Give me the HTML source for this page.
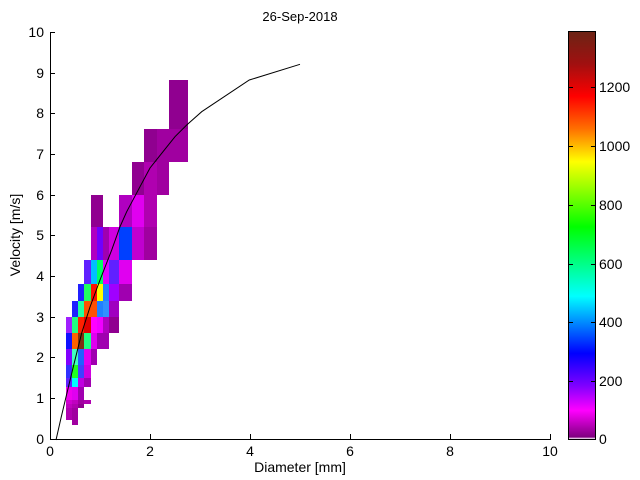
<!DOCTYPE html>
<html><head><meta charset="utf-8"><style>
html,body{margin:0;padding:0;background:#fff;}
svg{display:block;font-family:"Liberation Sans",sans-serif;}
</style></head><body>
<svg width="640" height="480" viewBox="0 0 640 480" xmlns="http://www.w3.org/2000/svg">
<defs>
<linearGradient id="cb" x1="0" y1="0" x2="0" y2="1">
<stop offset="0" stop-color="#6b2414"/>
<stop offset="0.08" stop-color="#a01010"/>
<stop offset="0.16" stop-color="#ff0000"/>
<stop offset="0.24" stop-color="#ff7000"/>
<stop offset="0.32" stop-color="#ffff00"/>
<stop offset="0.48" stop-color="#00ff00"/>
<stop offset="0.65" stop-color="#00ffff"/>
<stop offset="0.79" stop-color="#0000ff"/>
<stop offset="0.87" stop-color="#8000ff"/>
<stop offset="0.93" stop-color="#ff00ff"/>
<stop offset="0.995" stop-color="#800080"/>
<stop offset="1" stop-color="#ffffff"/>
</linearGradient>
</defs>
<rect width="640" height="480" fill="#fff"/>
<g shape-rendering="crispEdges">
<rect x="72" y="420" width="6" height="5" fill="#a000a0"/>
<rect x="66" y="408" width="6" height="12" fill="#b000b0"/>
<rect x="72" y="408" width="6" height="12" fill="#a000a0"/>
<rect x="66" y="404" width="6" height="4" fill="#c000c0"/>
<rect x="72" y="404" width="6" height="4" fill="#b000b0"/>
<rect x="78" y="404" width="6" height="4" fill="#900090"/>
<rect x="66" y="400" width="6" height="4" fill="#d000d0"/>
<rect x="72" y="400" width="6" height="4" fill="#c000c0"/>
<rect x="78" y="400" width="6" height="4" fill="#a000a0"/>
<rect x="84" y="400" width="7" height="4" fill="#b000b0"/>
<rect x="66" y="387" width="6" height="13" fill="#f000f0"/>
<rect x="72" y="387" width="6" height="13" fill="#e000f0"/>
<rect x="78" y="387" width="6" height="13" fill="#a000b0"/>
<rect x="66" y="378" width="6" height="9" fill="#6020ff"/>
<rect x="72" y="378" width="6" height="9" fill="#00ffff"/>
<rect x="78" y="378" width="6" height="9" fill="#c000e0"/>
<rect x="84" y="378" width="7" height="9" fill="#a000b0"/>
<rect x="66" y="365" width="6" height="13" fill="#3030ff"/>
<rect x="72" y="365" width="6" height="13" fill="#20ff20"/>
<rect x="78" y="365" width="6" height="13" fill="#4040ff"/>
<rect x="84" y="365" width="7" height="13" fill="#d000e0"/>
<rect x="66" y="349" width="6" height="16" fill="#8000ff"/>
<rect x="72" y="349" width="6" height="16" fill="#40ffc0"/>
<rect x="78" y="349" width="6" height="16" fill="#2060ff"/>
<rect x="84" y="349" width="7" height="16" fill="#e000f0"/>
<rect x="91" y="349" width="6" height="16" fill="#a000b0"/>
<rect x="66" y="333" width="6" height="16" fill="#1010ff"/>
<rect x="72" y="333" width="6" height="16" fill="#ff6000"/>
<rect x="78" y="333" width="6" height="16" fill="#803010"/>
<rect x="84" y="333" width="7" height="16" fill="#20ff80"/>
<rect x="91" y="333" width="6" height="16" fill="#e000f0"/>
<rect x="97" y="333" width="6" height="16" fill="#a000b0"/>
<rect x="103" y="333" width="6" height="16" fill="#a000b0"/>
<rect x="66" y="317" width="6" height="16" fill="#a020ff"/>
<rect x="72" y="317" width="6" height="16" fill="#20ff80"/>
<rect x="78" y="317" width="6" height="16" fill="#ff2000"/>
<rect x="84" y="317" width="7" height="16" fill="#e00000"/>
<rect x="91" y="317" width="6" height="16" fill="#ff00ff"/>
<rect x="97" y="317" width="6" height="16" fill="#f000ff"/>
<rect x="103" y="317" width="6" height="16" fill="#b000c0"/>
<rect x="109" y="317" width="10" height="16" fill="#900090"/>
<rect x="72" y="301" width="6" height="16" fill="#2020ff"/>
<rect x="78" y="301" width="6" height="16" fill="#20ffa0"/>
<rect x="84" y="301" width="7" height="16" fill="#ff5000"/>
<rect x="91" y="301" width="6" height="16" fill="#ff5000"/>
<rect x="97" y="301" width="6" height="16" fill="#2080ff"/>
<rect x="103" y="301" width="6" height="16" fill="#3090ff"/>
<rect x="109" y="301" width="10" height="16" fill="#a000c0"/>
<rect x="78" y="284" width="6" height="17" fill="#2020ff"/>
<rect x="84" y="284" width="7" height="17" fill="#20ff60"/>
<rect x="91" y="284" width="6" height="17" fill="#ff1000"/>
<rect x="97" y="284" width="6" height="17" fill="#ffff00"/>
<rect x="103" y="284" width="6" height="17" fill="#2080ff"/>
<rect x="109" y="284" width="10" height="17" fill="#a000ff"/>
<rect x="119" y="284" width="13" height="17" fill="#a000b0"/>
<rect x="84" y="260" width="7" height="24" fill="#6020ff"/>
<rect x="91" y="260" width="6" height="24" fill="#00c0ff"/>
<rect x="97" y="260" width="6" height="24" fill="#00ff60"/>
<rect x="103" y="260" width="6" height="24" fill="#e000ff"/>
<rect x="109" y="260" width="10" height="24" fill="#6020ff"/>
<rect x="119" y="260" width="13" height="24" fill="#e000f0"/>
<rect x="91" y="227" width="6" height="33" fill="#b000c0"/>
<rect x="97" y="227" width="6" height="33" fill="#7000ff"/>
<rect x="103" y="227" width="6" height="33" fill="#a000b0"/>
<rect x="109" y="227" width="10" height="33" fill="#d000e0"/>
<rect x="119" y="227" width="13" height="33" fill="#0040ff"/>
<rect x="132" y="227" width="12" height="33" fill="#c000d0"/>
<rect x="144" y="227" width="13" height="33" fill="#a000a0"/>
<rect x="91" y="195" width="12" height="32" fill="#900090"/>
<rect x="119" y="195" width="13" height="32" fill="#b000c0"/>
<rect x="132" y="195" width="12" height="32" fill="#e000f0"/>
<rect x="144" y="195" width="13" height="32" fill="#b000b0"/>
<rect x="132" y="162" width="12" height="33" fill="#900090"/>
<rect x="144" y="162" width="13" height="33" fill="#b000b0"/>
<rect x="157" y="162" width="12" height="33" fill="#a000a0"/>
<rect x="144" y="129" width="13" height="33" fill="#900090"/>
<rect x="157" y="129" width="12" height="33" fill="#a000a0"/>
<rect x="169" y="129" width="19" height="33" fill="#a000a0"/>
<rect x="169" y="80" width="19" height="49" fill="#900090"/>
</g>
<polyline fill="none" stroke="#000" stroke-width="1" points="56,440 61,418 66,397 73.3,366.7 81.7,333 90,307 100,280 111.7,250 120,226.7 126.7,211.7 140,186.7 150,168 163,151.7 175,136.7 186.7,125 201.7,111.7 249.3,80 300,64.3"/>
<g stroke="#000" stroke-width="1" fill="none" shape-rendering="crispEdges">
<line x1="50.5" y1="32" x2="50.5" y2="439.5"/>
<line x1="50" y1="439.5" x2="551" y2="439.5"/>
<path d="M150.5,439v-5M250.5,439v-5M350.5,439v-5M450.5,439v-5M550.5,439v-5"/>
<path d="M50,398.5h5M50,357.5h5M50,317.5h5M50,276.5h5M50,235.5h5M50,195.5h5M50,154.5h5M50,113.5h5M50,73.5h5M50,32.5h5"/>
</g>
<g font-size="14" fill="#000" text-anchor="middle">
<text x="50" y="456">0</text><text x="150" y="456">2</text><text x="250" y="456">4</text><text x="350" y="456">6</text><text x="450" y="456">8</text><text x="550" y="456">10</text>
</g>
<g font-size="14" fill="#000" text-anchor="end">
<text x="44" y="444">0</text><text x="44" y="403">1</text><text x="44" y="362">2</text><text x="44" y="322">3</text><text x="44" y="281">4</text><text x="44" y="240">5</text><text x="44" y="200">6</text><text x="44" y="159">7</text><text x="44" y="118">8</text><text x="44" y="78">9</text><text x="44" y="37">10</text>
</g>
<text x="300" y="472" font-size="14" text-anchor="middle">Diameter [mm]</text>
<text transform="translate(20,235) rotate(-90)" font-size="14" text-anchor="middle">Velocity [m/s]</text>
<text x="300" y="21" font-size="13" text-anchor="middle">26-Sep-2018</text>
<rect x="569" y="31" width="26" height="408" fill="url(#cb)"/>
<g stroke="#000" stroke-width="1" fill="none" shape-rendering="crispEdges">
<rect x="568.5" y="31.5" width="27" height="408"/>
<path d="M569,381.5h4M569,322.5h4M569,264.5h4M569,205.5h4M569,146.5h4M569,87.5h4M595,381.5h-4M595,322.5h-4M595,264.5h-4M595,205.5h-4M595,146.5h-4M595,87.5h-4"/>
</g>
<g font-size="14" fill="#000">
<text x="599" y="444">0</text><text x="599" y="386">200</text><text x="599" y="327">400</text><text x="599" y="269">600</text><text x="599" y="210">800</text><text x="599" y="151">1000</text><text x="599" y="92">1200</text>
</g>
</svg>
</body></html>
